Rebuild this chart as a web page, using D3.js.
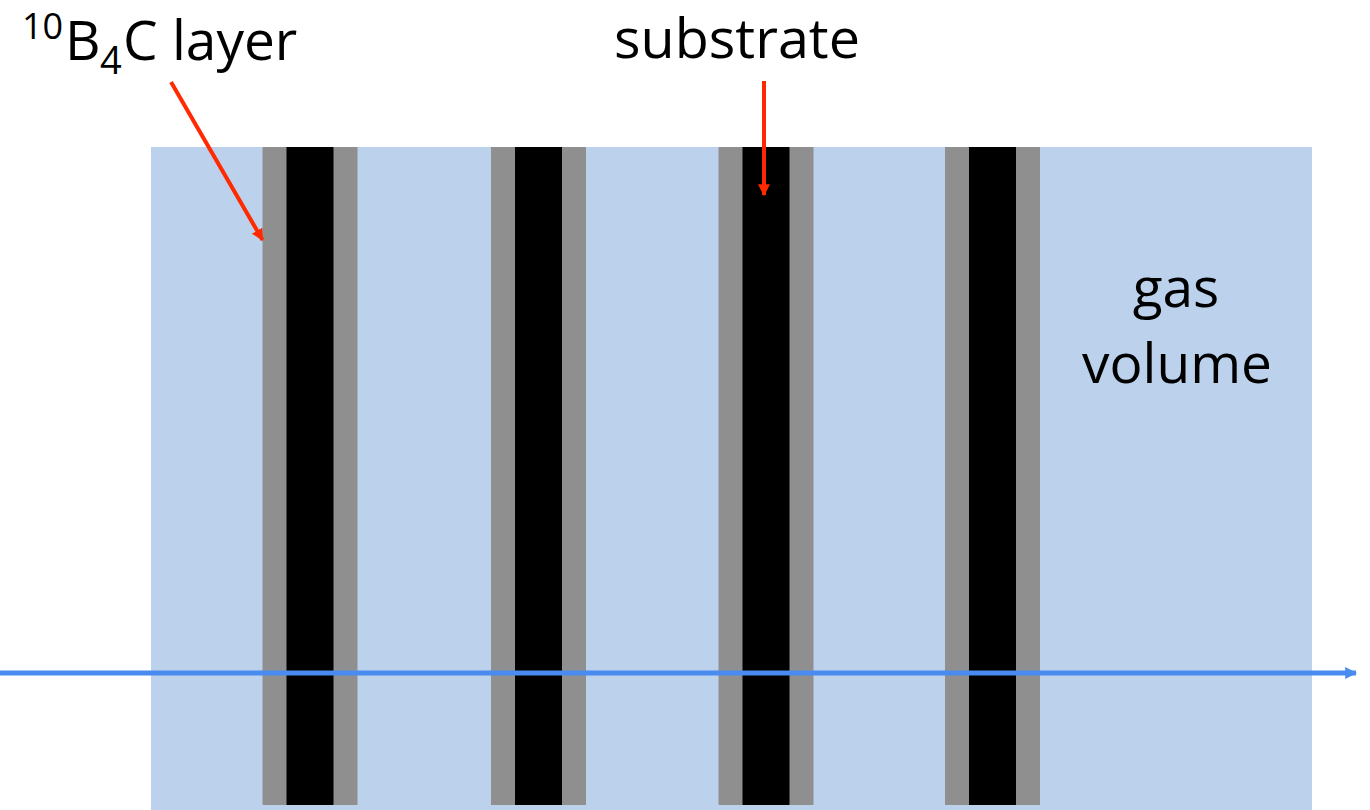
<!DOCTYPE html>
<html>
<head>
<meta charset="utf-8">
<script src="https://cdn.jsdelivr.net/npm/d3@7"></script>
<style>
  html, body { margin: 0; padding: 0; background: #ffffff; }
  svg { display: block; }
  text { font-family: "Open Sans", "Noto Sans", sans-serif; fill: #000; }
</style>
</head>
<body>
<svg id="chart" width="1370" height="810"></svg>
<script>
// ---- diagram data (units: arbitrary units along the detector) ----
const gasVolume = [0, 1161];            // extent of the gas volume (x)
const gasDepth = [0, 663];              // vertical extent of gas volume
const bladeCenters = [159, 387.5, 615, 841.5]; // blade centre positions
const coatingWidth = [24];              // 10B4C coating thickness (each side)
const substrateWidth = [47];            // substrate thickness
const bladeLength = [658];              // blade height
const beamY = [526];                    // neutron beam depth
const labels = ["substrate", "gas", "volume"];

const svg = d3.select("#chart");
const x = d3.scaleLinear().domain([0, 1161]).range([151, 1312]);
const y = d3.scaleLinear().domain([0, 663]).range([147, 810]);
const w = d => x(d) - x(0);
const h = d => y(d) - y(0);

// gas volume
svg.append("rect")
  .attr("x", x(gasVolume[0])).attr("y", y(gasDepth[0]))
  .attr("width", w(gasVolume[1] - gasVolume[0]))
  .attr("height", h(gasDepth[1] - gasDepth[0]))
  .attr("fill", "#bcd1ec");

// blades
const blades = svg.append("g").selectAll("g").data(bladeCenters).join("g");
blades.append("rect")
  .attr("x", d => x(d - substrateWidth[0] / 2 - coatingWidth[0]))
  .attr("y", y(0))
  .attr("width", w(substrateWidth[0] + 2 * coatingWidth[0]))
  .attr("height", h(bladeLength[0]))
  .attr("fill", "#8f8f8f");
blades.append("rect")
  .attr("x", d => x(d - substrateWidth[0] / 2))
  .attr("y", y(0))
  .attr("width", w(substrateWidth[0]))
  .attr("height", h(bladeLength[0]))
  .attr("fill", "#000000");

// markers
const defs = svg.append("defs");
defs.append("marker").attr("id", "redhead")
  .attr("viewBox", "0 0 10 10").attr("refX", 9).attr("refY", 5)
  .attr("markerWidth", 3).attr("markerHeight", 3)
  .attr("markerUnits", "strokeWidth").attr("orient", "auto")
  .append("path").attr("d", "M0,0 L10,5 L0,10 Z").attr("fill", "#ff2a00");
defs.append("marker").attr("id", "bluehead")
  .attr("viewBox", "0 0 10 10").attr("refX", 9).attr("refY", 5)
  .attr("markerWidth", 2.4).attr("markerHeight", 2.4)
  .attr("markerUnits", "strokeWidth").attr("orient", "auto")
  .append("path").attr("d", "M0,0 L10,5 L0,10 Z").attr("fill", "#4a8bef");

// neutron beam
svg.append("line")
  .attr("x1", 0).attr("x2", 1356)
  .attr("y1", y(beamY[0])).attr("y2", y(beamY[0]))
  .attr("stroke", "#4a8bef").attr("stroke-width", 5)
  .attr("marker-end", "url(#bluehead)");

// red pointer arrows
const b1 = bladeCenters[0] - substrateWidth[0] / 2 - coatingWidth[0];
svg.append("line")
  .attr("x1", 171).attr("y1", 82)
  .attr("x2", x(b1)).attr("y2", y(93))
  .attr("stroke", "#ff2a00").attr("stroke-width", 4)
  .attr("marker-end", "url(#redhead)");
svg.append("line")
  .attr("x1", x(bladeCenters[2] - 2)).attr("y1", 81)
  .attr("x2", x(bladeCenters[2] - 2)).attr("y2", y(48))
  .attr("stroke", "#ff2a00").attr("stroke-width", 4)
  .attr("marker-end", "url(#redhead)");

// labels
const lab = svg.append("text").attr("x", 22).attr("y", 60).attr("font-size", 55);
lab.append("tspan").attr("font-size", 36).attr("dy", -21).text("10");
lab.append("tspan").attr("x", 65).attr("dy", 21).text("B");
lab.append("tspan").attr("font-size", 38).attr("x", 100).attr("dy", 14).text("4");
lab.append("tspan").attr("x", 123).attr("dy", -14).text("C layer");

svg.append("text").attr("x", 614).attr("y", 58).attr("font-size", 55)
  .attr("textLength", 246).attr("lengthAdjust", "spacingAndGlyphs")
  .text(labels[0]);
svg.append("text").attr("x", 1176).attr("y", 307).attr("font-size", 55)
  .attr("text-anchor", "middle").text(labels[1]);
svg.append("text").attr("x", 1177).attr("y", 383).attr("font-size", 55)
  .attr("text-anchor", "middle").text(labels[2]);
</script>
</body>
</html>
